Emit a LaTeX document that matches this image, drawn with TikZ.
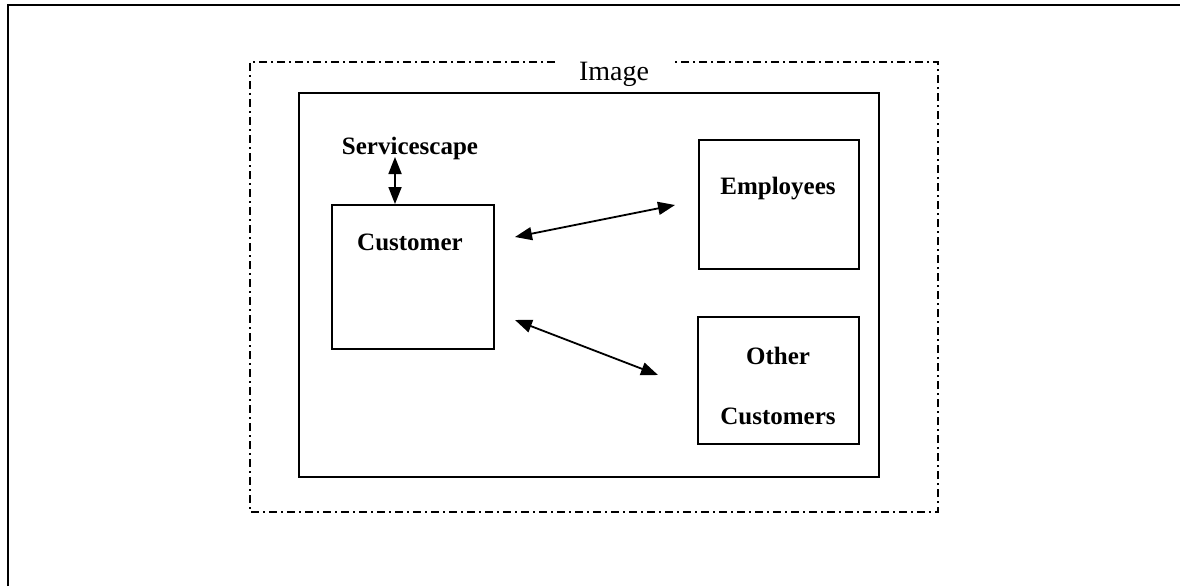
\documentclass[tikz,border=0pt]{standalone}
\usepackage{fontspec}
\setmainfont{Liberation Serif}
\usetikzlibrary{arrows.meta}
\begin{document}
\begin{tikzpicture}[x=1pt,y=-1pt,
  frameline/.style={line width=2pt},
  dashframe/.style={line width=1.4pt, dash pattern=on 8pt off 4pt on 2pt off 4pt},
  solidbox/.style={draw, line width=1.6pt, inner sep=0pt, anchor=north west},
  lbl/.style={font=\fontsize{25}{30}\selectfont\bfseries, anchor=base},
  link/.style={line width=1.8pt, {Triangle[length=17pt,width=13pt]}-{Triangle[length=17pt,width=13pt]}}]
  \useasboundingbox (0,0) rectangle (1180,586);
  % page frame (top and left edges)
  \draw[frameline] (8,586) -- (8,5) -- (1180,5);
  % dash-dot boundary with its title
  \draw[dashframe] (555,62) -- (250,62) -- (250,512) -- (938,512) -- (938,62) -- (673,62);
  \node[font=\fontsize{28}{32}\selectfont, anchor=base] (imglbl) at (614,81) {Image};
  % inner setting
  \node[solidbox, minimum width=580pt, minimum height=384pt] (setting) at (298,92) {};
  % actors
  \node[solidbox, minimum width=162pt, minimum height=144pt] (cust) at (331,204) {};
  \node[solidbox, minimum width=160pt, minimum height=129pt] (empl) at (698,139) {};
  \node[solidbox, minimum width=161pt, minimum height=127pt] (oth) at (697,316) {};
  \node[lbl] (custlbl) at (410,250) {Customer};
  \node[lbl] (empllbl) at (778,194) {Employees};
  \node[lbl] (othlbl1) at (778,364) {Other};
  \node[lbl] (othlbl2) at (778,424) {Customers};
  \node[lbl] (scape) at (410,154) {Servicescape};
  % arrow end points beside the boxes
  \coordinate (scapebot) at (395,157);
  \coordinate (custtop) at (395,204);
  \coordinate (custr1) at (515,237);
  \coordinate (custr2) at (515,320);
  \coordinate (emplw) at (675,205);
  \coordinate (othw) at (658,375);
  % interactions
  \draw[link] (scapebot) -- (custtop);
  \draw[link] (custr1) -- (emplw);
  \draw[link] (custr2) -- (othw);
\end{tikzpicture}
\end{document}
